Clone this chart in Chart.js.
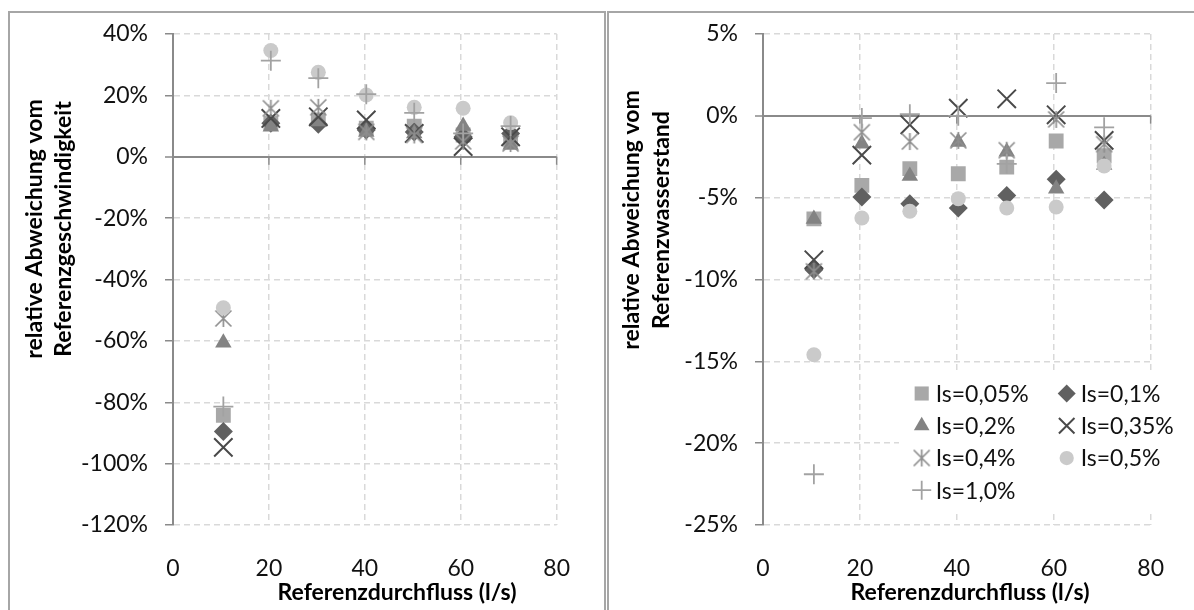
<!DOCTYPE html>
<html>
<head>
<meta charset="utf-8">
<script src="https://cdn.jsdelivr.net/npm/chart.js@4.4.1/dist/chart.umd.min.js"></script>
<style>
  body { margin: 0; background: #fff; width: 1194px; height: 610px; overflow: hidden; position: relative; }
  .frame { position: absolute; border: 2px solid #a6a6a6; box-sizing: border-box; }
  .box { position: absolute; top: 0; height: 610px; }
</style>
</head>
<body>
<div class="frame" style="left:8px; top:11px; width:598px; height:640px;"></div>
<div class="frame" style="left:607px; top:11px; width:640px; height:640px;"></div>
<div class="box" style="left:0; width:600px;"><canvas id="speedChart" width="600" height="610"></canvas></div>
<div class="box" style="left:600px; width:594px;"><canvas id="levelChart" width="594" height="610"></canvas></div>

<script>
// Reference flows (l/s) and the slope cases
const flows = [10.5, 20.4, 30.3, 40.3, 50.3, 60.5, 70.4];
const seriesLabels = ['Is=0,05%', 'Is=0,1%', 'Is=0,2%', 'Is=0,35%', 'Is=0,4%', 'Is=0,5%', 'Is=1,0%'];

// relative deviation from reference velocity (%)
const speed005 = [-84.3, 11.0, 12.0, 9.3, 10.0, 7.1, 5.4];
const speed01  = [-89.5, 10.9, 10.6, 8.7, 8.1, 6.5, 7.6];
const speed02  = [-60.6, 9.8, 11.5, 8.1, 7.6, 10.0, 3.8];
const speed035 = [-94.7, 12.5, 13.0, 12.0, 7.6, 3.3, 6.5];
const speed04  = [-52.7, 15.8, 16.1, 8.1, 7.1, 5.0, 4.3];
const speed05  = [-49.2, 34.6, 27.5, 20.1, 16.1, 15.8, 11.1];
const speed10  = [-81.4, 31.3, 25.6, 20.4, 14.3, 7.6, 10.0];

// relative deviation from reference water level (%)
const level005 = [-6.3, -4.25, -3.23, -3.54, -3.13, -1.54, -2.44];
const level01  = [-9.4, -4.96, -5.37, -5.63, -4.86, -3.88, -5.15];
const level02  = [-6.3, -1.7, -3.68, -1.6, -2.2, -4.45, -3.0];
const level035 = [-8.8, -2.4, -0.55, 0.47, 1.04, 0.06, -1.5];
const level04  = [-9.5, -1.0, -1.57, -1.5, -2.1, -0.22, -1.73];
const level05  = [-14.6, -6.24, -5.83, -5.06, -5.63, -5.57, -3.06];
const level10  = [-21.9, -0.14, 0.1, 0.0, -2.93, 2.0, -0.7];

const xTicks = [0, 20, 40, 60, 80];
const speedTicks = [-120, -100, -80, -60, -40, -20, 0, 20, 40];
const levelTicks = [-25, -20, -15, -10, -5, 0, 5];

const axisGray = '#8a8a8a';
const gridGray = '#d9d9d9';
const textColor = '#111';
const FONT = 'Lato, "Open Sans", sans-serif';

// Excel-style star marker: an X with a vertical bar
function asterisk(size, color) {
  const c = document.createElement('canvas');
  c.width = c.height = size;
  const g = c.getContext('2d');
  g.strokeStyle = color;
  g.lineWidth = 1.7;
  const lo = 1.5, hi = size - 1.5, m = size / 2;
  g.beginPath();
  g.moveTo(lo, lo); g.lineTo(hi, hi);
  g.moveTo(hi, lo); g.lineTo(lo, hi);
  g.moveTo(m, lo - 0.5); g.lineTo(m, hi + 0.5);
  g.stroke();
  return c;
}

const markers = [
  { style: 'rect',     radius: 10.5, color: '#a8a8a8', width: 0 },
  { style: 'rectRot',  radius: 9.5,  color: '#606060', width: 0 },
  { style: 'triangle', radius: 9.5,  color: '#838383', width: 0 },
  { style: 'crossRot', radius: 13,   color: '#4a4a4a', width: 2 },
  { style: asterisk(19, '#8e8e8e'), radius: 10, color: '#8e8e8e', width: 0 },
  { style: 'circle',   radius: 7.5,  color: '#cacaca', width: 0 },
  { style: 'cross',    radius: 10,   color: '#a2a2a2', width: 1.8 }
];

function buildDatasets(series) {
  return series.map((vals, i) => ({
    label: seriesLabels[i],
    data: flows.map((x, j) => ({ x: x, y: vals[j] })),
    pointStyle: markers[i].style,
    pointRadius: markers[i].radius,
    pointHoverRadius: markers[i].radius,
    pointBackgroundColor: markers[i].color,
    pointBorderColor: markers[i].color,
    pointBorderWidth: markers[i].width,
    showLine: false,
    order: series.length - i   // later series on top
  }));
}

// axis titles, placed freely
const axisTitles = {
  id: 'axisTitles',
  afterDraw(chart, args, o) {
    const ctx = chart.ctx;
    ctx.save();
    ctx.fillStyle = '#000';
    ctx.font = 'bold 23px ' + FONT;
    ctx.textAlign = 'center';
    ctx.textBaseline = 'middle';
    ctx.fillText(o.xText, o.xAt[0], o.xAt[1]);
    ctx.translate(o.yAt[0], o.yAt[1]);
    ctx.rotate(-Math.PI / 2);
    o.yText.forEach((line, i) => ctx.fillText(line, 0, (i - (o.yText.length - 1) / 2) * o.lineGap));
    ctx.restore();
  }
};

// small tick marks hanging from the zero line
const zeroTicks = {
  id: 'zeroTicks',
  beforeDatasetsDraw(chart) {
    const { ctx, scales: { x, y } } = chart;
    const y0 = y.getPixelForValue(0);
    ctx.save();
    ctx.strokeStyle = axisGray;
    ctx.lineWidth = 1.5;
    ctx.beginPath();
    xTicks.slice(1).forEach(v => {
      const px = x.getPixelForValue(v);
      ctx.moveTo(px, y0);
      ctx.lineTo(px, y0 + 8);
    });
    ctx.stroke();
    ctx.restore();
  }
};

// two-column legend inside the plot area
const boxLegend = {
  id: 'boxLegend',
  afterDraw(chart, args, o) {
    if (!o.show) return;
    const ctx = chart.ctx;
    ctx.save();
    ctx.fillStyle = '#fff';
    ctx.fillRect(o.box[0], o.box[1], o.box[2], o.box[3]);
    ctx.font = '23px ' + FONT;
    ctx.textBaseline = 'middle';
    ctx.textAlign = 'left';
    chart.data.datasets.forEach((ds, i) => {
      const col = i % 2, row = Math.floor(i / 2);
      const mx = o.cols[col], my = o.rows[row];
      ctx.fillStyle = ds.pointBackgroundColor;
      ctx.strokeStyle = ds.pointBorderColor;
      ctx.lineWidth = ds.pointBorderWidth;
      const r = ds.pointStyle === 'crossRot' ? 11 : ds.pointRadius * 0.95;
      Chart.helpers.drawPoint(ctx, { pointStyle: ds.pointStyle, radius: r, rotation: 0, borderWidth: ds.pointBorderWidth }, mx, my);
      ctx.fillStyle = textColor;
      ctx.fillText(ds.label, mx + o.textGap, my + 1);
    });
    ctx.restore();
  }
};

function makeChart(id, series, yTicks, cfg) {
  return new Chart(document.getElementById(id), {
    type: 'scatter',
    data: { datasets: buildDatasets(series) },
    options: {
      responsive: false,
      animation: false,
      events: [],
      layout: { padding: { top: 34, right: cfg.padRight, left: 0, bottom: 0 } },
      plugins: {
        legend: { display: false },
        tooltip: { enabled: false },
        axisTitles: cfg.titles,
        boxLegend: cfg.legend
      },
      scales: {
        x: {
          type: 'linear',
          min: 0, max: 80,
          afterBuildTicks: s => { s.ticks = xTicks.map(v => ({ value: v })); },
          ticks: { padding: 30, color: textColor, font: { family: FONT, size: 23 } },
          grid: { color: gridGray, lineWidth: 1.5, drawTicks: false },
          border: { display: false, dash: [6, 4] },
          afterFit: s => { s.height = 85; }
        },
        y: {
          type: 'linear',
          min: yTicks[0], max: yTicks[yTicks.length - 1],
          afterBuildTicks: s => { s.ticks = yTicks.map(v => ({ value: v })); },
          ticks: { padding: 17, color: textColor, font: { family: FONT, size: 23 }, callback: v => v + '%' },
          grid: {
            color: c => (c.tick && c.tick.value === 0 ? axisGray : gridGray),
            lineWidth: c => (c.tick && c.tick.value === 0 ? 2 : 1.5),
            tickLength: 8,
            tickColor: axisGray,
            tickWidth: 1.5
          },
          border: {
            color: axisGray,
            width: 2,
            dash: c => (c.tick && c.tick.value === 0 ? [] : [6, 4])
          },
          afterFit: s => { s.width = cfg.yWidth; }
        }
      }
    },
    plugins: [axisTitles, zeroTicks, boxLegend]
  });
}

makeChart('speedChart',
  [speed005, speed01, speed02, speed035, speed04, speed05, speed10],
  speedTicks,
  {
    yWidth: 173, padRight: 30,
    titles: {
      xText: 'Referenzdurchfluss (l/s)', xAt: [397, 593],
      yText: ['relative Abweichung vom', 'Referenzgeschwindigkeit'], yAt: [49, 229], lineGap: 29
    },
    legend: { show: false }
  });

makeChart('levelChart',
  [level005, level01, level02, level035, level04, level05, level10],
  levelTicks,
  {
    yWidth: 163, padRight: 17,
    titles: {
      xText: 'Referenzdurchfluss (l/s)', xAt: [370, 593],
      yText: ['relative Abweichung vom', 'Referenzwasserstand'], yAt: [47, 220], lineGap: 30
    },
    legend: {
      show: true,
      box: [299, 374, 281, 138],
      cols: [321.7, 466.7],
      rows: [393.5, 425.8, 458, 490.2],
      textGap: 14
    }
  });
</script>
</body>
</html>
